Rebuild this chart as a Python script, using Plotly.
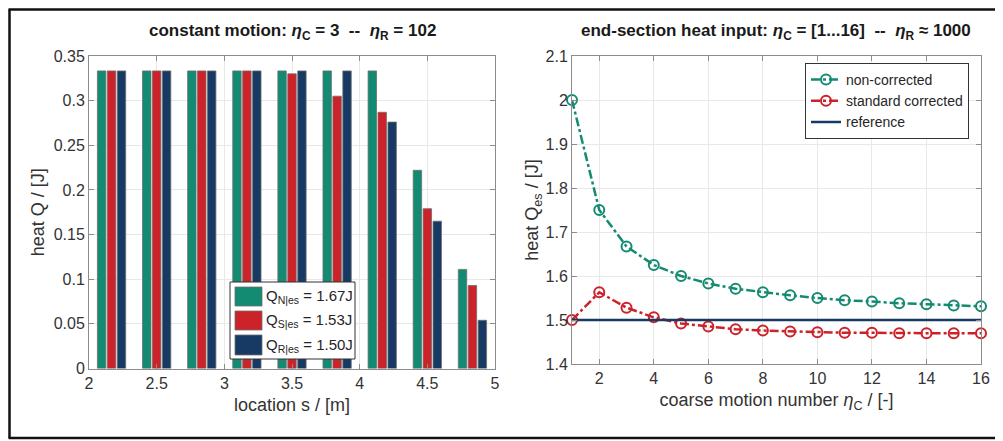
import plotly.graph_objects as go

# ---------------- data ----------------
locations = [2.1667, 2.5, 2.8333, 3.1667, 3.5, 3.8333, 4.1667, 4.5, 4.8333]
q_nonc = [0.3333, 0.3333, 0.3333, 0.3333, 0.3333, 0.3333, 0.3333, 0.222, 0.111]
q_std = [0.3333, 0.3333, 0.3333, 0.3333, 0.330, 0.305, 0.287, 0.179, 0.093]
q_ref = [0.3333, 0.3333, 0.3333, 0.3333, 0.3333, 0.3333, 0.276, 0.165, 0.054]
bar_legend = ["Q<sub>N|es</sub> = 1.67J", "Q<sub>S|es</sub> = 1.53J", "Q<sub>R|es</sub> = 1.50J"]

eta_c = [1, 2, 3, 4, 5, 6, 7, 8, 9, 10, 11, 12, 13, 14, 15, 16]
es_nonc = [2.0, 1.75, 1.667, 1.625, 1.6, 1.583, 1.571, 1.563, 1.556, 1.55, 1.545, 1.542, 1.538, 1.536, 1.533, 1.531]
es_std = [1.5, 1.563, 1.528, 1.506, 1.492, 1.485, 1.479, 1.476, 1.474, 1.472, 1.471, 1.471, 1.470, 1.470, 1.470, 1.470]
ref_x = [1, 16]
ref_y = [1.5, 1.5]

GREEN = "#138a72"
RED = "#cc2229"
BLUE = "#173a64"
FONT = "Liberation Sans, Arial, sans-serif"

# page has an 8px body margin; figure sized to fill the rest of the window
OFF = 8
W, H = 1003 - OFF, 441 - OFF
def px(x):
    return (x - OFF) / W
def py(y):
    return 1 - (y - OFF) / H

fig = go.Figure()

for vals, col, name in zip([q_nonc, q_std, q_ref], [GREEN, RED, BLUE], bar_legend):
    fig.add_trace(go.Bar(x=locations, y=vals, name=name, marker=dict(color=col, line=dict(color="#6e6e6e", width=0.8)),
                         showlegend=False, xaxis="x", yaxis="y"))

fig.add_trace(go.Scatter(x=eta_c, y=es_nonc, name="non-corrected", mode="lines+markers",
                         line=dict(color=GREEN, width=2.5, dash="dashdot"),
                         marker=dict(symbol="circle-open", size=10, color=GREEN, line=dict(width=2)),
                         cliponaxis=False, xaxis="x2", yaxis="y2"))
fig.add_trace(go.Scatter(x=eta_c, y=es_std, name="standard corrected", mode="lines+markers",
                         line=dict(color=RED, width=2.5, dash="dashdot"),
                         marker=dict(symbol="circle-open", size=10, color=RED, line=dict(width=2)),
                         cliponaxis=False, xaxis="x2", yaxis="y2"))
fig.add_trace(go.Scatter(x=ref_x, y=ref_y, name="reference", mode="lines",
                         line=dict(color=BLUE, width=2.5), xaxis="x2", yaxis="y2"))

axis_common = dict(showline=True, linecolor="#8c8c8c", linewidth=1, mirror="ticks", ticks="inside",
                   ticklen=5, tickcolor="#8c8c8c", showgrid=True, gridcolor="#e8e8e8", zeroline=False,
                   automargin=False, tickfont=dict(family=FONT, size=16, color="#333333"))
title_font = dict(family=FONT, size=18, color="#333333")

fig.update_layout(
    width=W, height=H, margin=dict(l=0, r=0, t=0, b=0, autoexpand=False),
    paper_bgcolor="white", plot_bgcolor="white",
    font=dict(family=FONT, size=14, color="#262626"),
    barmode="group", bargap=0.34, bargroupgap=0.15,
    xaxis=dict(domain=[px(89), px(495)], range=[2, 5], dtick=0.5, anchor="y",
               title=dict(text="location s / [m]", standoff=7, font=title_font), **axis_common),
    yaxis=dict(domain=[py(368.5), py(56)], range=[0, 0.35], dtick=0.05, anchor="x",
               title=dict(text="heat Q / [J]", standoff=4, font=title_font), **axis_common),
    xaxis2=dict(domain=[px(572), px(981)], range=[1, 16], tickvals=[2, 4, 6, 8, 10, 12, 14, 16], anchor="y2",
                title=dict(text="coarse motion number <i>η</i><sub>C</sub> / [-]", standoff=7, font=title_font), **axis_common),
    yaxis2=dict(domain=[py(364), py(56)], range=[1.4, 2.1], dtick=0.1, anchor="x2",
                title=dict(text="heat Q<sub>es</sub> / [J]", standoff=2, font=title_font), **axis_common),
    legend=dict(x=px(969), xanchor="right", y=py(63), yanchor="top", bgcolor="white",
                bordercolor="#333333", borderwidth=1, font=dict(family=FONT, size=14, color="#262626"),
                tracegroupgap=0, itemwidth=30),
)

# titles
fig.add_annotation(x=px(292), y=py(32), xref="paper", yref="paper", showarrow=False, xanchor="center", yanchor="middle",
                   text="<b>constant motion: <i>η</i><sub>C</sub> = 3  --  <i>η</i><sub>R</sub> = 102</b>",
                   font=dict(family=FONT, size=17, color="#1a1a1a"))
fig.add_annotation(x=px(776), y=py(32), xref="paper", yref="paper", showarrow=False, xanchor="center", yanchor="middle",
                   text="<b>end-section heat input: <i>η</i><sub>C</sub> = [1...16]  --  <i>η</i><sub>R</sub> ≈ 1000</b>",
                   font=dict(family=FONT, size=17, color="#1a1a1a"))

# custom bar legend (large colour patches)
shapes = [dict(type="rect", xref="paper", yref="paper", x0=px(230), x1=px(355), y0=py(359), y1=py(282),
               line=dict(color="#333333", width=1), fillcolor="white", layer="above")]
rows = [(287, 306), (311, 330), (335, 355)]
for (y0, y1), col, txt in zip(rows, [GREEN, RED, BLUE], bar_legend):
    shapes.append(dict(type="rect", xref="paper", yref="paper", x0=px(235), x1=px(262), y0=py(y1), y1=py(y0),
                       line=dict(color="#6e6e6e", width=0.8), fillcolor=col, layer="above"))
    fig.add_annotation(x=px(264), y=py((y0 + y1) / 2), xref="paper", yref="paper", showarrow=False,
                       xanchor="left", yanchor="middle", text=txt, font=dict(family=FONT, size=15, color="#262626"))

# outer frame lines
shapes += [
    dict(type="line", xref="paper", yref="paper", x0=px(8.5), x1=1, y0=py(9.5), y1=py(9.5), line=dict(color="#111111", width=2.5)),
    dict(type="line", xref="paper", yref="paper", x0=px(8.5), x1=1, y0=py(438), y1=py(438), line=dict(color="#111111", width=2.5)),
    dict(type="line", xref="paper", yref="paper", x0=px(9.5), x1=px(9.5), y0=py(9.5), y1=py(438), line=dict(color="#111111", width=2.5)),
]
fig.update_layout(shapes=shapes)

fig.write_html("out.html")
